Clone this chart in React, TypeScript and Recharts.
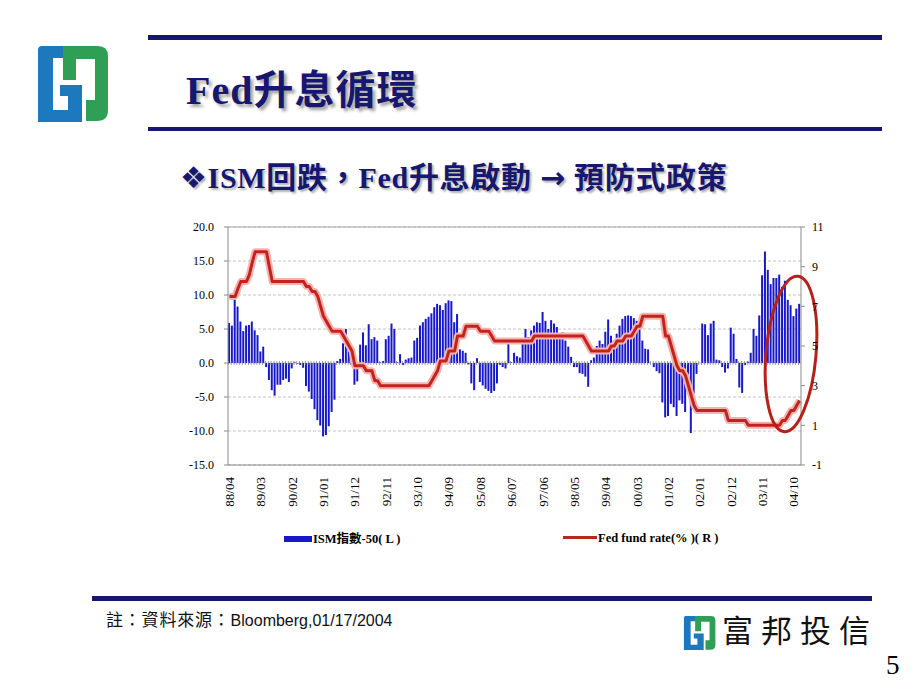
import React from 'react';
import { ComposedChart, Bar, Line, XAxis, YAxis, CartesianGrid, ReferenceLine, ReferenceDot } from 'recharts';

// monthly series, 1988/04 .. 2004/12
const firstYear = 1988;
const firstMonth = 4;

// ISM指數-50 (left axis)
const ismMinus50 = [
  5.9, 5.5, 9.4, 8.3, 6.1, 4.7, 5.5, 5.6, 6.1, 4.8, 4.1, 1.7, 2.4,
  -0.6, -2.5, -4.0, -4.8, -3.2, -3.2, -2.5, -2.3, -2.8, -0.8,
  0.1, -0.1, -0.3, -0.7,
  -3.4, -4.2, -5.3, -6.8, -8.4, -9.2, -10.8, -10.6, -9.3, -7.2, -5.4,
  0.3, 0.6, 2.9, 5.0, 2.8, -0.3, -3.2, -2.7,
  2.7, 4.5, 2.6, 5.7, 3.5, 3.8, 3.3, 0.1, 0.3, 3.5, 4.0, 5.8, 5.0, 0.1, 1.3, -0.3, 0.5, 0.7, 0.8,
  3.3, 3.7, 5.5, 6.0, 6.5, 6.8, 7.3, 8.2, 8.7, 8.5, 7.8, 8.8, 9.2, 9.1, 6.0, 7.2, 2.0, 1.8, 1.5, -0.2,
  -3.0, -4.0, 0.7, -2.8, -3.3, -3.8, -4.1, -4.4, -4.1, -3.0, -0.3,
  -0.6, -0.8, 3.5, 0.1, 1.5, 1.0, 0.8, 3.0, 5.0, 3.8, 4.8, 5.5, 6.0, 5.9, 7.5, 6.2, 5.0, 6.3, 5.8, 5.3,
  4.3, 4.5, 3.3, 2.4, 0.9, -0.6, -0.6, -1.5, -1.6, -2.0, -3.5, 0.4, 0.8, 2.5, 3.3, 2.8, 4.6, 6.4,
  4.0, 3.3, 4.3, 5.5, 6.5, 6.9, 7.0, 6.9, 6.6, 6.2, 5.0, 3.3, 2.1, 2.0,
  0.0, -0.6, -1.2, -1.5, -5.8, -8.0, -7.8, -6.0, -6.5, -7.8, -5.5, -6.0, -7.2, -3.8, -10.3, -4.5, -1.6, 0.0,
  5.8, 5.7, 4.1, 5.8, 6.2,
  0.5, 0.4, -0.6, -1.4, -0.8, 5.2, 4.3, 0.6, -3.6, -4.4, -0.3, 0.2, 1.5, 5.0, 4.0, 7.0, 12.9, 16.4,
  13.7, 11.6, 12.5, 12.5, 13.0, 11.2, 12.1, 9.3, 8.5, 6.9, 8.0, 8.7,
];

// Fed fund rate % (right axis)
const fedFundRate = [
  7.5, 7.5, 7.5, 7.9, 8.25, 8.25, 8.25, 8.6, 9.2, 9.75,
  9.75, 9.75, 9.75, 9.75, 9.0, 8.25, 8.25, 8.25, 8.25, 8.25,
  8.25, 8.25, 8.25, 8.25, 8.25, 8.25, 8.25, 8.0, 8.0, 7.75,
  7.75, 7.5, 7.0, 6.5, 6.25, 6.0, 5.75, 5.75, 5.75, 5.75,
  5.5, 5.25, 5.0, 4.75, 4.0, 4.0, 4.0, 4.0, 3.75, 3.75,
  3.75, 3.25, 3.25, 3.0, 3.0, 3.0, 3.0, 3.0, 3.0, 3.0,
  3.0, 3.0, 3.0, 3.0, 3.0, 3.0, 3.0, 3.0, 3.0, 3.0,
  3.0, 3.25, 3.5, 3.75, 4.25, 4.25, 4.25, 4.75, 4.75, 4.75,
  5.5, 5.5, 5.5, 6.0, 6.0, 6.0, 6.0, 6.0, 5.75, 5.75,
  5.75, 5.75, 5.5, 5.25, 5.25, 5.25, 5.25, 5.25, 5.25, 5.25,
  5.25, 5.25, 5.25, 5.25, 5.25, 5.25, 5.25, 5.5, 5.5, 5.5,
  5.5, 5.5, 5.5, 5.5, 5.5, 5.5, 5.5, 5.5, 5.5, 5.5,
  5.5, 5.5, 5.5, 5.5, 5.5, 5.25, 5.0, 4.75, 4.75, 4.75,
  4.75, 4.75, 4.75, 4.75, 5.0, 5.0, 5.25, 5.25, 5.25, 5.5,
  5.5, 5.5, 5.75, 6.0, 6.0, 6.5, 6.5, 6.5, 6.5, 6.5,
  6.5, 6.5, 6.5, 5.5, 5.5, 5.0, 4.5, 4.0, 3.75, 3.75,
  3.5, 3.0, 2.5, 2.0, 1.75, 1.75, 1.75, 1.75, 1.75, 1.75,
  1.75, 1.75, 1.75, 1.75, 1.75, 1.25, 1.25, 1.25, 1.25, 1.25,
  1.25, 1.25, 1.0, 1.0, 1.0, 1.0, 1.0, 1.0, 1.0, 1.0,
  1.0, 1.0, 1.0, 1.0, 1.25, 1.25, 1.5, 1.75, 1.75, 2.0,
  2.25,
];

const leftTicks = [-15, -10, -5, 0, 5, 10, 15, 20];
const rightTicks = [-1, 1, 3, 5, 7, 9, 11];

const pad = (n: number) => String(n).padStart(2, '0');
const months = ismMinus50.map((_, i) => {
  const m = firstMonth - 1 + i;
  return `${pad((firstYear + Math.floor(m / 12)) % 100)}/${pad((m % 12) + 1)}`;
});
const data = months.map((month, i) => ({ month, ism: ismMinus50[i], fed: fedFundRate[i] }));

const NAVY = '#17176f';
const serif = '"Liberation Serif", "Noto Sans CJK TC", serif';
const cjk = '"Liberation Sans", "Noto Sans CJK TC", sans-serif';

// plot box inside the 920x690 slide
const plotLeft = 228;
const plotRight = 801;
const plotTop = 227;
const plotBottom = 465;
const leftAxisW = 60;
const rightAxisW = 45;
const xAxisH = 45;
const catWidth = (plotRight - plotLeft) / data.length;

const MonthTick = (props: any) => {
  const { x, y, payload } = props;
  return (
    <text x={x} y={y} transform={`rotate(-90 ${x} ${y})`} textAnchor="end" dy="0.35em"
      fontFamily={serif} fontSize={13} fill="#000">
      {payload.value}
    </text>
  );
};

const Logo = ({ x, y, s }: { x: number; y: number; s: number }) => (
  <svg style={{ position: 'absolute', left: x, top: y }} width={76 * s} height={80 * s} viewBox="0 0 76 80">
    <path d="M6,2 L36,2 L36,14 L17,14 L17,66 L32,66 L32,52 L24,52 L24,41 L46,41 L46,78 L2,78 L2,6 Q2,2 6,2 Z" fill="#1d78bd" />
    <path d="M27,2 L62,2 Q72,2 72,12 L72,66 Q72,77 61,77 L50,77 L50,56 L59,56 L59,15 L40,15 L40,36 L27,36 Z" fill="#2f9f55" />
  </svg>
);

const App = () => {
  return (
    <div style={{ position: 'absolute', left: 0, top: 0, width: 920, height: 690, background: '#fff', overflow: 'hidden' }}>
      <ComposedChart
        width={920}
        height={690}
        data={data}
        margin={{ top: plotTop, left: plotLeft - leftAxisW, right: 920 - plotRight - rightAxisW, bottom: 690 - plotBottom - xAxisH }}
        style={{ position: 'absolute', left: 0, top: 0 }}
      >
        <CartesianGrid yAxisId="left" vertical={false} stroke="#c4c4c4" strokeDasharray="3 2" />
        <XAxis dataKey="month" interval={10} height={xAxisH} tick={<MonthTick />} tickLine={false}
          tickSize={0} tickMargin={12} axisLine={{ stroke: '#8a8a8a' }} />
        <YAxis yAxisId="left" domain={[-15, 20]} ticks={leftTicks} width={leftAxisW}
          tickFormatter={(v: number) => v.toFixed(1)} tickSize={4} tickMargin={10}
          axisLine={{ stroke: '#8a8a8a' }} tickLine={{ stroke: '#8a8a8a' }}
          tick={{ fontFamily: serif, fontSize: 12, fill: '#000' }} />
        <YAxis yAxisId="right" orientation="right" domain={[-1, 11]} ticks={rightTicks} width={rightAxisW}
          tickSize={4} tickMargin={7} axisLine={{ stroke: '#8a8a8a' }} tickLine={{ stroke: '#8a8a8a' }}
          tick={{ fontFamily: serif, fontSize: 12, fill: '#000' }} />
        <ReferenceLine yAxisId="left" y={20} stroke="#a8a8a8" />
        <Bar yAxisId="left" dataKey="ism" fill="#1818c8" barSize={2} isAnimationActive={false} />
        <ReferenceLine yAxisId="left" y={0} stroke="#7a7a7a" strokeWidth={4}
          strokeDasharray={`0.7 ${(catWidth - 0.7).toFixed(3)}`} />
        <Line yAxisId="right" dataKey="fed" type="linear" stroke="#f5b3b0" strokeWidth={7} dot={false}
          strokeLinejoin="round" isAnimationActive={false} />
        <Line yAxisId="right" dataKey="fed" type="linear" stroke="#c4231d" strokeWidth={3} dot={false}
          strokeLinejoin="round" isAnimationActive={false} />
        <ReferenceDot yAxisId="right" x="04/09" y={4.6} r={1}
          shape={(p: any) => (
            <ellipse cx={p.cx} cy={p.cy} rx={25} ry={78} transform={`rotate(5 ${p.cx} ${p.cy})`}
              fill="none" stroke="#b52019" strokeWidth={3} />
          )} />
      </ComposedChart>

      {/* header */}
      <Logo x={36} y={44} s={1} />
      <div style={{ position: 'absolute', left: 148, top: 35, width: 734, height: 5, background: NAVY }} />
      <div style={{ position: 'absolute', left: 148, top: 127, width: 734, height: 4, background: NAVY }} />
      <div style={{ position: 'absolute', left: 186, top: 71, fontFamily: serif, fontWeight: 700, fontSize: 40,
        lineHeight: '40px', color: NAVY, letterSpacing: 1, whiteSpace: 'nowrap', textShadow: '3px 3px 3px rgba(0,0,0,0.35)' }}>
        Fed升息循環
      </div>
      <div style={{ position: 'absolute', left: 180, top: 163, fontFamily: '"Liberation Serif", "DejaVu Sans", "Noto Sans CJK TC", serif',
        fontWeight: 700, fontSize: 30, lineHeight: '30px', color: NAVY, letterSpacing: 0.7, whiteSpace: 'nowrap',
        textShadow: '2px 2px 2px rgba(0,0,0,0.3)' }}>
        ❖ISM回跌，Fed升息啟動 <span style={{ fontFamily: '"DejaVu Sans", sans-serif' }}>→</span> 預防式政策
      </div>

      {/* legend */}
      <div style={{ position: 'absolute', left: 284, top: 536, width: 28, height: 6, background: '#1818c8' }} />
      <div style={{ position: 'absolute', left: 313, top: 531, fontFamily: serif, fontWeight: 700, fontSize: 12.5,
        lineHeight: '16px', whiteSpace: 'nowrap' }}>ISM指數-50( L )</div>
      <div style={{ position: 'absolute', left: 563, top: 536, width: 34, height: 3, background: '#b8281f' }} />
      <div style={{ position: 'absolute', left: 598, top: 530, fontFamily: serif, fontWeight: 700, fontSize: 12.5,
        lineHeight: '16px', whiteSpace: 'nowrap' }}>Fed fund rate(% )( R )</div>

      {/* footer */}
      <div style={{ position: 'absolute', left: 92, top: 596, width: 780, height: 5, background: NAVY }} />
      <div style={{ position: 'absolute', left: 106, top: 611, fontFamily: cjk, fontSize: 16, lineHeight: '20px',
        whiteSpace: 'nowrap', color: '#111' }}>
        <span style={{ fontSize: 17, letterSpacing: 0.8 }}>註：資料來源：</span>Bloomberg,01/17/2004
      </div>
      <Logo x={683} y={615} s={0.45} />
      <div style={{ position: 'absolute', left: 722, top: 612, fontFamily: cjk, fontSize: 31, lineHeight: '40px',
        letterSpacing: 8, whiteSpace: 'nowrap', color: '#111' }}>富邦投信</div>
      <div style={{ position: 'absolute', left: 886, top: 650, fontFamily: serif, fontSize: 27, lineHeight: '30px',
        color: '#000' }}>5</div>
    </div>
  );
};

export default App;
